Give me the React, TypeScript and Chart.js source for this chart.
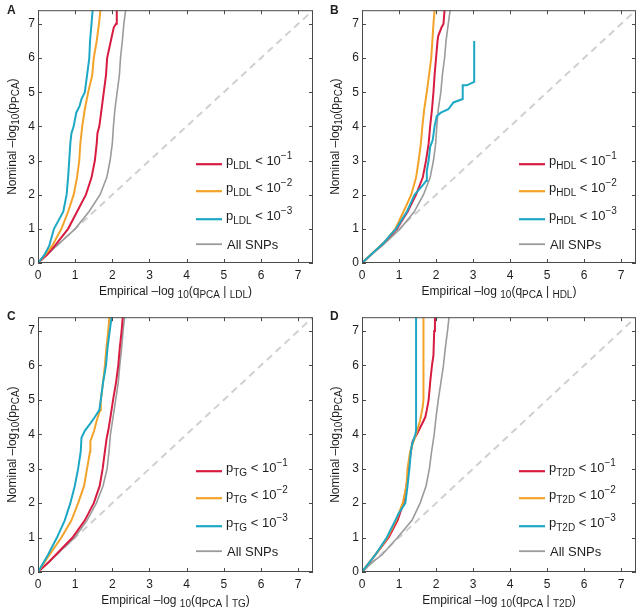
import React, { useEffect, useRef } from "react";
import { Chart, registerables } from "chart.js";

Chart.register(...registerables);

// ---------- shared axis data ----------
const AXIS_MAX = 7.4;
const tickValues = [0, 1, 2, 3, 4, 5, 6, 7];
const tickLabels = ["0", "1", "2", "3", "4", "5", "6", "7"];
const diagonalX = [0, 7.4];
const diagonalY = [0, 7.4];
const panelLetters = ["A", "B", "C", "D"];
const traitNames = ["LDL", "HDL", "TG", "T2D"];
const thresholdExponents = ["−1", "−2", "−3"];
const allSnpsLabel = "All SNPs";

// ---------- Panel A (LDL) ----------
const ldlP1X = [0, 0.25, 0.45, 0.81, 1.05, 1.29, 1.44, 1.53, 1.58, 1.6, 1.65, 1.71, 1.77, 1.83, 1.86, 1.92, 1.98, 2.04, 2.1, 2.12];
const ldlP1Y = [0, 0.25, 0.5, 1, 1.5, 2, 2.5, 3, 3.5, 3.8, 4, 4.5, 5, 5.5, 6, 6.3, 6.6, 6.9, 7, 7.4];
const ldlP2X = [0, 0.2, 0.38, 0.63, 0.81, 0.96, 1.05, 1.11, 1.14, 1.19, 1.26, 1.35, 1.46, 1.5, 1.58, 1.64, 1.68];
const ldlP2Y = [0, 0.25, 0.5, 1, 1.5, 2, 2.5, 3, 3.5, 4, 4.5, 5, 5.5, 6, 6.5, 7, 7.4];
const ldlP3X = [0, 0.18, 0.3, 0.43, 0.68, 0.77, 0.81, 0.84, 0.87, 0.9, 0.96, 1.03, 1.12, 1.17, 1.26, 1.32, 1.38, 1.4, 1.44, 1.47];
const ldlP3Y = [0, 0.25, 0.5, 1, 1.5, 2, 2.5, 3, 3.5, 3.8, 4, 4.4, 4.6, 4.8, 5, 5.5, 6, 6.5, 7, 7.4];
const ldlAllX = [0, 0.3, 0.5, 1.0, 1.37, 1.67, 1.85, 1.94, 2.0, 2.03, 2.07, 2.13, 2.19, 2.22, 2.27, 2.31, 2.36];
const ldlAllY = [0, 0.3, 0.5, 1, 1.5, 2, 2.5, 3, 3.5, 4, 4.5, 5, 5.5, 6, 6.5, 7, 7.4];

// ---------- Panel B (HDL) ----------
const hdlP1X = [0, 0.3, 0.6, 0.94, 1.23, 1.46, 1.64, 1.73, 1.8, 1.84, 1.89, 1.93, 1.96, 2.0, 2.04, 2.06, 2.15, 2.2, 2.23];
const hdlP1Y = [0, 0.3, 0.6, 1, 1.5, 2, 2.5, 3, 3.5, 4, 4.5, 5, 5.5, 6, 6.5, 6.65, 6.9, 7, 7.4];
const hdlP2X = [0, 0.3, 0.6, 0.9, 1.12, 1.33, 1.46, 1.53, 1.59, 1.63, 1.68, 1.75, 1.81, 1.87, 1.9, 1.93, 1.96];
const hdlP2Y = [0, 0.3, 0.6, 1, 1.5, 2, 2.5, 3, 3.5, 4, 4.5, 5, 5.5, 6, 6.5, 7, 7.4];
const hdlP3X = [0, 0.3, 0.6, 0.75, 0.92, 1.21, 1.42, 1.66, 1.73, 1.75, 1.8, 1.84, 1.91, 1.96, 2.02, 2.13, 2.33, 2.4, 2.47, 2.72, 2.72, 2.83, 3.03, 3.03];
const hdlP3Y = [0, 0.3, 0.6, 0.8, 1, 1.5, 2, 2.3, 2.4, 2.7, 3, 3.4, 3.6, 4, 4.3, 4.4, 4.5, 4.6, 4.7, 4.8, 5.2, 5.2, 5.3, 6.5];
const hdlAllX = [0, 0.3, 0.54, 1.03, 1.41, 1.66, 1.84, 1.93, 1.99, 2.02, 2.06, 2.13, 2.17, 2.23, 2.27, 2.33, 2.38];
const hdlAllY = [0, 0.3, 0.5, 1, 1.5, 2, 2.5, 3, 3.5, 4, 4.5, 5, 5.5, 6, 6.5, 7, 7.4];

// ---------- Panel C (TG) ----------
const tgP1X = [0, 0.3, 0.48, 0.93, 1.26, 1.5, 1.66, 1.74, 1.8, 1.85, 1.89, 1.95, 2.02, 2.1, 2.16, 2.2, 2.25, 2.28];
const tgP1Y = [0, 0.3, 0.5, 1, 1.5, 2, 2.5, 3, 3.5, 3.9, 4.1, 4.5, 5, 5.5, 6, 6.5, 7, 7.4];
const tgP2X = [0, 0.31, 0.63, 0.9, 1.08, 1.24, 1.32, 1.4, 1.41, 1.51, 1.58, 1.67, 1.69, 1.75, 1.8, 1.84, 1.89, 1.92];
const tgP2Y = [0, 0.5, 1, 1.5, 2, 2.5, 3, 3.5, 3.8, 4.1, 4.4, 4.7, 5, 5.5, 6, 6.5, 7, 7.4];
const tgP3X = [0, 0.27, 0.51, 0.72, 0.87, 0.99, 1.08, 1.15, 1.17, 1.26, 1.4, 1.53, 1.65, 1.69, 1.75, 1.83, 1.87, 1.93, 1.98];
const tgP3Y = [0, 0.5, 1, 1.5, 2, 2.5, 3, 3.5, 3.9, 4.1, 4.3, 4.5, 4.7, 5, 5.5, 6, 6.5, 7, 7.4];
const tgAllX = [0, 0.3, 0.5, 0.99, 1.32, 1.57, 1.75, 1.86, 1.91, 1.95, 2.02, 2.09, 2.16, 2.2, 2.25, 2.29, 2.33];
const tgAllY = [0, 0.3, 0.5, 1, 1.5, 2, 2.5, 3, 3.5, 4, 4.5, 5, 5.5, 6, 6.5, 7, 7.4];

// ---------- Panel D (T2D) ----------
const t2dP1X = [0, 0.36, 0.72, 0.96, 1.12, 1.2, 1.26, 1.32, 1.37, 1.48, 1.62, 1.71, 1.75, 1.8, 1.84, 1.89, 1.93, 1.95, 1.97];
const t2dP1Y = [0, 0.5, 1, 1.5, 2, 2.5, 3, 3.5, 3.8, 4, 4.3, 4.5, 4.7, 5, 5.5, 6, 6.3, 7, 7.4];
const t2dP2X = [0, 0.36, 0.69, 0.92, 1.1, 1.2, 1.23, 1.3, 1.46, 1.57, 1.64, 1.66, 1.66];
const t2dP2Y = [0, 0.5, 1, 1.5, 2, 2.5, 3, 3.5, 4, 4.4, 4.8, 5.0, 7.4];
const t2dP3X = [0, 0.36, 0.67, 0.9, 0.99, 1.17, 1.23, 1.28, 1.32, 1.35, 1.44, 1.46, 1.46];
const t2dP3Y = [0, 0.5, 1, 1.5, 1.7, 2, 2.5, 3, 3.5, 3.7, 4, 4.1, 7.4];
const t2dAllX = [0, 0.3, 0.54, 0.96, 1.35, 1.57, 1.73, 1.82, 1.88, 1.95, 2.0, 2.06, 2.13, 2.2, 2.25, 2.31, 2.35];
const t2dAllY = [0, 0.3, 0.5, 1, 1.5, 2, 2.5, 3, 3.5, 4, 4.5, 5, 5.5, 6, 6.5, 7, 7.4];

// ---------- styles ----------
const RED = "#d81b40";
const ORANGE = "#f3a329";
const CYAN = "#1ca8c5";
const GRAY = "#9b9b9b";
const DIAG = "#d0d0d0";
const BOX = "#4a4a4a";
const TEXT = "#1e1e1e";
const FONT = "'Liberation Sans', Arial, Helvetica, sans-serif";

type Curve = { xs: number[]; ys: number[] };

const panelCurves: Curve[][] = [
  [{ xs: ldlP1X, ys: ldlP1Y }, { xs: ldlP2X, ys: ldlP2Y }, { xs: ldlP3X, ys: ldlP3Y }, { xs: ldlAllX, ys: ldlAllY }],
  [{ xs: hdlP1X, ys: hdlP1Y }, { xs: hdlP2X, ys: hdlP2Y }, { xs: hdlP3X, ys: hdlP3Y }, { xs: hdlAllX, ys: hdlAllY }],
  [{ xs: tgP1X, ys: tgP1Y }, { xs: tgP2X, ys: tgP2Y }, { xs: tgP3X, ys: tgP3Y }, { xs: tgAllX, ys: tgAllY }],
  [{ xs: t2dP1X, ys: t2dP1Y }, { xs: t2dP2X, ys: t2dP2Y }, { xs: t2dP3X, ys: t2dP3Y }, { xs: t2dAllX, ys: t2dAllY }],
];

// layout of each panel canvas (page px) and its plot area (canvas px)
const panelBoxes = [
  { x: 0, y: 0, w: 320, h: 307, left: 38, right: 313, top: 3, bottom: 263, letterX: 7, letterY: 14, ytX: 16 },
  { x: 320, y: 0, w: 320, h: 307, left: 42, right: 316, top: 3, bottom: 263, letterX: 10, letterY: 14, ytX: 19 },
  { x: 0, y: 307, w: 320, h: 308, left: 38, right: 313, top: 7, bottom: 265, letterX: 7, letterY: 13, ytX: 16 },
  { x: 320, y: 307, w: 320, h: 308, left: 42, right: 316, top: 7, bottom: 265, letterX: 10, letterY: 13, ytX: 19 },
];

type Part = { t: string; size: number; dy?: number };

function partsWidth(ctx: CanvasRenderingContext2D, parts: Part[]) {
  let w = 0;
  for (const p of parts) {
    ctx.font = `${p.size}px ${FONT}`;
    w += ctx.measureText(p.t).width;
  }
  return w;
}

function drawParts(ctx: CanvasRenderingContext2D, parts: Part[], x: number, y: number) {
  let cx = x;
  ctx.textAlign = "left";
  ctx.textBaseline = "alphabetic";
  for (const p of parts) {
    ctx.font = `${p.size}px ${FONT}`;
    ctx.fillText(p.t, cx, y + (p.dy || 0));
    cx += ctx.measureText(p.t).width;
  }
}

function makeDecor(idx: number) {
  const trait = traitNames[idx];
  const box = panelBoxes[idx];
  return {
    id: "decor" + idx,
    afterDraw(chart: any) {
      const ctx: CanvasRenderingContext2D = chart.ctx;
      const ca = chart.chartArea;
      const xs = chart.scales.x;
      const ys = chart.scales.y;
      ctx.save();
      // box
      ctx.strokeStyle = BOX;
      ctx.lineWidth = 1;
      ctx.setLineDash([]);
      ctx.strokeRect(ca.left + 0.5, ca.top + 0.5, ca.right - ca.left - 1, ca.bottom - ca.top - 1);
      // inward ticks on all four sides
      ctx.beginPath();
      for (const v of tickValues) {
        const px = Math.round(xs.getPixelForValue(v)) + 0.5;
        ctx.moveTo(px, ca.bottom);
        ctx.lineTo(px, ca.bottom - 4);
        ctx.moveTo(px, ca.top);
        ctx.lineTo(px, ca.top + 4);
        const py = Math.round(ys.getPixelForValue(v)) + 0.5;
        ctx.moveTo(ca.left, py);
        ctx.lineTo(ca.left + 4, py);
        ctx.moveTo(ca.right, py);
        ctx.lineTo(ca.right - 4, py);
      }
      ctx.stroke();

      ctx.fillStyle = TEXT;
      // panel letter
      ctx.font = `bold 12px ${FONT}`;
      ctx.textAlign = "left";
      ctx.textBaseline = "alphabetic";
      ctx.fillText(panelLetters[idx], box.letterX, box.letterY);

      // x title
      const xParts: Part[] = [
        { t: "Empirical –log ", size: 12 },
        { t: "10", size: 10, dy: 3 },
        { t: "(q", size: 12 },
        { t: "PCA", size: 10, dy: 3 },
        { t: " | ", size: 12 },
        { t: trait, size: 10, dy: 3 },
        { t: ")", size: 12 },
      ];
      const xw = partsWidth(ctx, xParts);
      drawParts(ctx, xParts, (ca.left + ca.right) / 2 - xw / 2, ca.bottom + 32);

      // y title (rotated)
      const yParts: Part[] = [
        { t: "Nominal –log", size: 12 },
        { t: "10", size: 10, dy: 3 },
        { t: "(p", size: 12 },
        { t: "PCA", size: 10, dy: 3 },
        { t: ")", size: 12 },
      ];
      const yw = partsWidth(ctx, yParts);
      ctx.save();
      ctx.translate(box.ytX, (ca.top + ca.bottom) / 2);
      ctx.rotate(-Math.PI / 2);
      drawParts(ctx, yParts, -yw / 2, 0);
      ctx.restore();

      // legend
      const rowOffsets = [154, 181, 209, 234];
      const colors = [RED, ORANGE, CYAN, GRAY];
      const x0 = ca.right - 117;
      const x1 = ca.right - 91;
      const tx = ca.right - 87;
      for (let i = 0; i < 4; i++) {
        const ly = ca.top + rowOffsets[i];
        ctx.strokeStyle = colors[i];
        ctx.lineWidth = i === 3 ? 1.8 : 2.2;
        ctx.beginPath();
        ctx.moveTo(x0, ly);
        ctx.lineTo(x1, ly);
        ctx.stroke();
        ctx.fillStyle = TEXT;
        if (i < 3) {
          drawParts(
            ctx,
            [
              { t: "p", size: 13 },
              { t: trait, size: 10, dy: 4 },
              { t: " < 10", size: 13 },
              { t: thresholdExponents[i], size: 10, dy: -6 },
            ],
            tx,
            ly + 1
          );
        } else {
          drawParts(ctx, [{ t: allSnpsLabel, size: 13 }], tx + 1, ly + 5);
        }
      }
      ctx.restore();
    },
  };
}

function toPoints(xs: number[], ys: number[]) {
  return xs.map((x, i) => ({ x, y: ys[i] }));
}

function Panel({ idx }: { idx: number }) {
  const ref = useRef<HTMLCanvasElement | null>(null);
  const box = panelBoxes[idx];
  useEffect(() => {
    if (!ref.current) return;
    const curves = panelCurves[idx];
    const lineDs = (c: Curve, color: string, width: number) => ({
      data: toPoints(c.xs, c.ys),
      showLine: true,
      borderColor: color,
      backgroundColor: color,
      borderWidth: width,
      pointRadius: 0,
      tension: 0,
      fill: false,
    });
    const chart = new Chart(ref.current, {
      type: "scatter",
      data: {
        datasets: [
          lineDs(curves[2], CYAN, 2),
          lineDs(curves[1], ORANGE, 2),
          lineDs(curves[0], RED, 2),
          lineDs(curves[3], GRAY, 1.6),
          {
            data: toPoints(diagonalX, diagonalY),
            showLine: true,
            borderColor: DIAG,
            borderWidth: 2,
            borderDash: [7, 5],
            pointRadius: 0,
            fill: false,
          },
        ] as any,
      },
      options: {
        responsive: false,
        animation: false,
        devicePixelRatio: 1,
        events: [],
        layout: {
          padding: { left: 0, top: box.top, right: box.w - box.right, bottom: 0 },
        },
        plugins: {
          legend: { display: false },
          tooltip: { enabled: false },
          title: { display: false },
        },
        scales: {
          x: {
            type: "linear",
            min: 0,
            max: AXIS_MAX,
            grid: { display: false, drawTicks: false },
            border: { display: false },
            afterBuildTicks: (s: any) => {
              s.ticks = tickValues.map((v) => ({ value: v }));
            },
            afterFit: (s: any) => {
              s.height = box.h - box.bottom;
            },
            ticks: {
              padding: 5,
              color: TEXT,
              font: { family: FONT, size: 12 },
              maxRotation: 0,
              autoSkip: false,
              callback: (_v: any, i: number) => tickLabels[i],
            },
          },
          y: {
            type: "linear",
            min: 0,
            max: AXIS_MAX,
            grid: { display: false, drawTicks: false },
            border: { display: false },
            afterBuildTicks: (s: any) => {
              s.ticks = tickValues.map((v) => ({ value: v }));
            },
            afterFit: (s: any) => {
              s.width = box.left;
            },
            ticks: {
              padding: 3,
              color: TEXT,
              font: { family: FONT, size: 12 },
              autoSkip: false,
              callback: (_v: any, i: number) => tickLabels[i],
            },
          },
        },
      } as any,
      plugins: [makeDecor(idx)],
    });
    return () => chart.destroy();
  }, [idx]);
  return (
    <canvas
      ref={ref}
      width={box.w}
      height={box.h}
      style={{ position: "absolute", left: box.x, top: box.y, width: box.w, height: box.h }}
    />
  );
}

export default function App() {
  return (
    <div style={{ position: "absolute", left: 0, top: 0, width: 640, height: 615, background: "#fff" }}>
      {[0, 1, 2, 3].map((i) => (
        <Panel key={i} idx={i} />
      ))}
    </div>
  );
}
